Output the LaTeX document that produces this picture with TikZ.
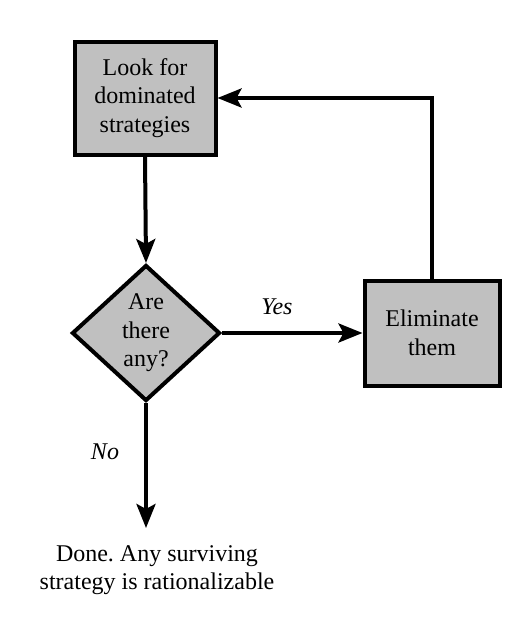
\documentclass[tikz,border=0pt]{standalone}
\usepackage{fontspec}
\setmainfont{Liberation Serif}
\frenchspacing
\usetikzlibrary{shapes.geometric,arrows.meta}
\definecolor{boxgray}{HTML}{C0C0C0}
\tikzset{
  stepbox/.style={draw=black, line width=4pt, fill=boxgray, inner sep=0pt, align=center,
    font=\fontsize{24}{28.5}\selectfont},
  flow/.style={line width=4pt, -{Stealth[length=24pt,width=19pt,inset=5pt]}},
  lbl/.style={font=\fontsize{24}{28.5}\selectfont\itshape, inner sep=0pt},
  plain/.style={font=\fontsize{24}{28.5}\selectfont, align=center, inner sep=0pt}
}
\begin{document}
\begin{tikzpicture}[x=1pt,y=-1pt]
\useasboundingbox (0,0) rectangle (530,619);
\node[stepbox, minimum width=141pt, minimum height=113pt] (look) at (145,98) {Look for\\dominated\\strategies};
\node[stepbox, diamond, aspect=1.08, minimum width=148pt, minimum height=136pt] (any) at (146,333) {Are\\there\\any?};
\node[stepbox, minimum width=135pt, minimum height=105pt] (elim) at (432,333) {Eliminate\\them};
\node[plain] (done) at (157,570) {Done. Any surviving\\strategy is rationalizable};
\coordinate (noend) at (146,528);
\draw[flow] (look.south) -- (any.north);
\draw[flow] (any.east) -- (elim.west);
\draw[flow] (elim.north) |- (look.east);
\draw[flow] (any.south) -- (noend);
\node[lbl] (yes) at (277,307) {Yes};
\node[lbl] (no) at (105,452) {No};
\end{tikzpicture}
\end{document}
